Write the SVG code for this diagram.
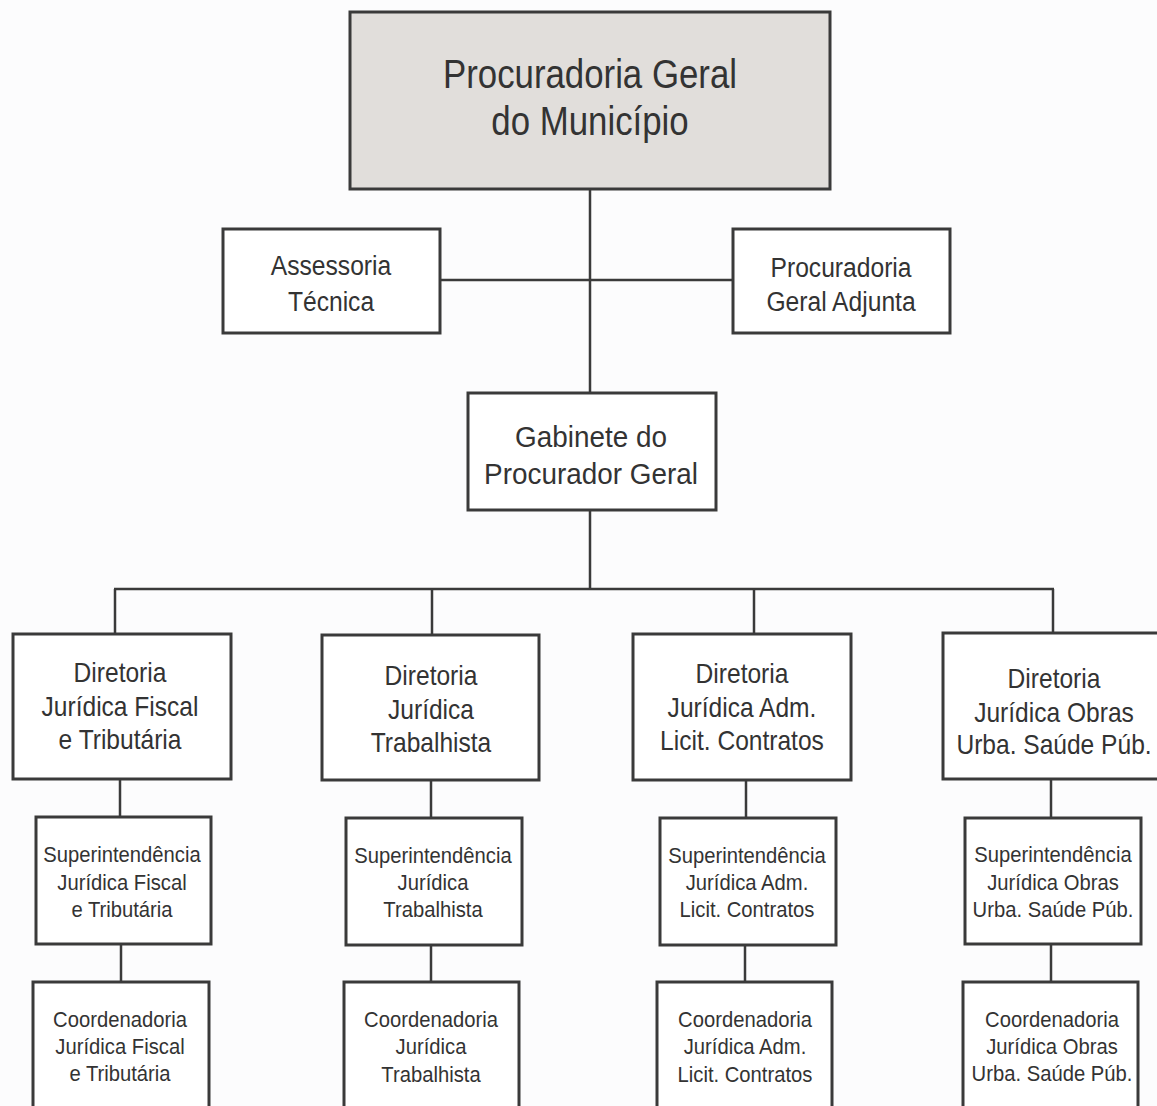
<svg xmlns="http://www.w3.org/2000/svg" width="1157" height="1106" viewBox="0 0 1157 1106">
<style>
.bg{fill:#fcfcfd}
.box{fill:#ffffff;stroke:#3a3a3a;stroke-width:3}
.top{fill:#e1dedb}
.conn line{stroke:#3a3a3a;stroke-width:2.5}
text{font-family:"Liberation Sans",Arial,sans-serif;fill:#333333;text-anchor:middle}
.t40{font-size:40px}
.t30{font-size:30px}
.t28{font-size:28px}
.t27{font-size:27px}
.t22{font-size:22px}
</style>
<rect class="bg" x="0" y="0" width="1157" height="1106"/>
<g id="connectors" class="conn">
<line x1="590" y1="189" x2="590" y2="393"/>
<line x1="440" y1="280" x2="733" y2="280"/>
<line x1="590" y1="510" x2="590" y2="589"/>
<line x1="114" y1="589" x2="1054" y2="589"/>
<line x1="115" y1="589" x2="115" y2="634"/>
<line x1="432" y1="589" x2="432" y2="635"/>
<line x1="754" y1="589" x2="754" y2="634"/>
<line x1="1053" y1="589" x2="1053" y2="633"/>
<line x1="120" y1="779" x2="120" y2="817"/>
<line x1="431" y1="780" x2="431" y2="818"/>
<line x1="746" y1="780" x2="746" y2="818"/>
<line x1="1051" y1="779" x2="1051" y2="818"/>
<line x1="121" y1="944" x2="121" y2="982"/>
<line x1="431" y1="945" x2="431" y2="982"/>
<line x1="745" y1="945" x2="745" y2="982"/>
<line x1="1051" y1="944" x2="1051" y2="982"/>
</g>
<g id="procuradoria-geral">
<rect class="box top" x="350" y="12" width="480" height="177"/>
<text class="t40" transform="translate(590,0) scale(0.87,1)"><tspan x="0" y="88">Procuradoria Geral</tspan><tspan x="0" y="135">do Município</tspan></text>
</g>
<g id="assessoria-tecnica">
<rect class="box" x="223" y="229" width="217" height="104"/>
<text class="t28" transform="translate(331,0) scale(0.88,1)"><tspan x="0" y="275">Assessoria</tspan><tspan x="0" y="311">Técnica</tspan></text>
</g>
<g id="procuradoria-adjunta">
<rect class="box" x="733" y="229" width="217" height="104"/>
<text class="t28" transform="translate(841,0) scale(0.88,1)"><tspan x="0" y="277">Procuradoria</tspan><tspan x="0" y="311">Geral Adjunta</tspan></text>
</g>
<g id="gabinete">
<rect class="box" x="468" y="393" width="248" height="117"/>
<text class="t30" transform="translate(591,0) scale(0.93,1)"><tspan x="0" y="447">Gabinete do</tspan><tspan x="0" y="484">Procurador Geral</tspan></text>
</g>
<g id="dir-fiscal">
<rect class="box" x="13" y="634" width="218" height="145"/>
<text class="t27" transform="translate(120,0) scale(0.91,1)"><tspan x="0" y="682">Diretoria</tspan><tspan x="0" y="716">Jurídica Fiscal</tspan><tspan x="0" y="749">e Tributária</tspan></text>
</g>
<g id="dir-trabalhista">
<rect class="box" x="322" y="635" width="217" height="145"/>
<text class="t27" transform="translate(431,0) scale(0.91,1)"><tspan x="0" y="685">Diretoria</tspan><tspan x="0" y="719">Jurídica</tspan><tspan x="0" y="752">Trabalhista</tspan></text>
</g>
<g id="dir-adm">
<rect class="box" x="633" y="634" width="218" height="146"/>
<text class="t27" transform="translate(742,0) scale(0.91,1)"><tspan x="0" y="683">Diretoria</tspan><tspan x="0" y="717">Jurídica Adm.</tspan><tspan x="0" y="750">Licit. Contratos</tspan></text>
</g>
<g id="dir-obras">
<rect class="box" x="943" y="633" width="220" height="146"/>
<text class="t27" transform="translate(1054,0) scale(0.91,1)"><tspan x="0" y="688">Diretoria</tspan><tspan x="0" y="722">Jurídica Obras</tspan><tspan x="0" y="754">Urba. Saúde Púb.</tspan></text>
</g>
<g id="sup-fiscal">
<rect class="box" x="36" y="817" width="175" height="127"/>
<text class="t22" transform="translate(122,0) scale(0.92,1)"><tspan x="0" y="862">Superintendência</tspan><tspan x="0" y="890">Jurídica Fiscal</tspan><tspan x="0" y="917">e Tributária</tspan></text>
</g>
<g id="sup-trabalhista">
<rect class="box" x="346" y="818" width="176" height="127"/>
<text class="t22" transform="translate(433,0) scale(0.92,1)"><tspan x="0" y="863">Superintendência</tspan><tspan x="0" y="890">Jurídica</tspan><tspan x="0" y="917">Trabalhista</tspan></text>
</g>
<g id="sup-adm">
<rect class="box" x="660" y="818" width="176" height="127"/>
<text class="t22" transform="translate(747,0) scale(0.92,1)"><tspan x="0" y="863">Superintendência</tspan><tspan x="0" y="890">Jurídica Adm.</tspan><tspan x="0" y="917">Licit. Contratos</tspan></text>
</g>
<g id="sup-obras">
<rect class="box" x="965" y="818" width="176" height="126"/>
<text class="t22" transform="translate(1053,0) scale(0.92,1)"><tspan x="0" y="862">Superintendência</tspan><tspan x="0" y="890">Jurídica Obras</tspan><tspan x="0" y="917">Urba. Saúde Púb.</tspan></text>
</g>
<g id="coord-fiscal">
<rect class="box" x="33" y="982" width="176" height="140"/>
<text class="t22" transform="translate(120,0) scale(0.92,1)"><tspan x="0" y="1027">Coordenadoria</tspan><tspan x="0" y="1054">Jurídica Fiscal</tspan><tspan x="0" y="1081">e Tributária</tspan></text>
</g>
<g id="coord-trabalhista">
<rect class="box" x="344" y="982" width="175" height="140"/>
<text class="t22" transform="translate(431,0) scale(0.92,1)"><tspan x="0" y="1027">Coordenadoria</tspan><tspan x="0" y="1054">Jurídica</tspan><tspan x="0" y="1082">Trabalhista</tspan></text>
</g>
<g id="coord-adm">
<rect class="box" x="657" y="982" width="175" height="140"/>
<text class="t22" transform="translate(745,0) scale(0.92,1)"><tspan x="0" y="1027">Coordenadoria</tspan><tspan x="0" y="1054">Jurídica Adm.</tspan><tspan x="0" y="1082">Licit. Contratos</tspan></text>
</g>
<g id="coord-obras">
<rect class="box" x="963" y="982" width="175" height="140"/>
<text class="t22" transform="translate(1052,0) scale(0.92,1)"><tspan x="0" y="1027">Coordenadoria</tspan><tspan x="0" y="1054">Jurídica Obras</tspan><tspan x="0" y="1081">Urba. Saúde Púb.</tspan></text>
</g>
</svg>
